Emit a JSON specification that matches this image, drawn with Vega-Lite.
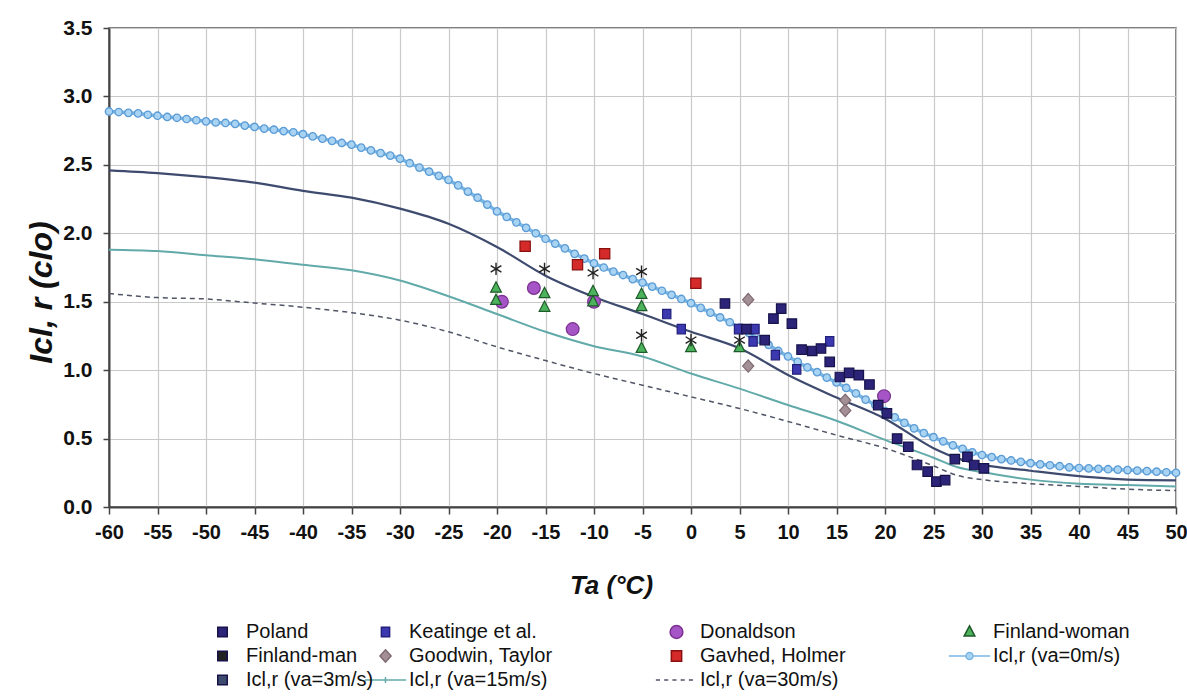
{
  "$schema": "https://vega.github.io/schema/vega-lite/v6.json",
  "width": 1067,
  "height": 479,
  "autosize": {"type": "none"},
  "padding": {"left": 109, "top": 28, "right": 11, "bottom": 191},
  "background": "white",
  "config": {
    "view": {"stroke": "#555555", "strokeWidth": 1.5},
    "font": "Liberation Sans",
    "axis": {
      "grid": true,
      "gridColor": "#c9c9c9",
      "gridWidth": 1.2,
      "domainColor": "#444444",
      "domainWidth": 2,
      "tickColor": "#444444",
      "tickWidth": 1.5,
      "labelFont": "Liberation Sans",
      "labelFontWeight": "bold",
      "labelFontSize": 20,
      "labelColor": "#111111",
      "titleFont": "Liberation Sans",
      "titleFontSize": 26,
      "titleFontWeight": "bold",
      "titleFontStyle": "italic",
      "titleColor": "#111111"
    },
    "legend": {
      "orient": "none",
      "symbolSize": 1700,
      "clipHeight": 18,
      "labelFont": "Liberation Sans",
      "labelFontSize": 20,
      "labelColor": "#111111",
      "labelOffset": 2,
      "labelLimit": 300,
      "rowPadding": 4,
      "padding": 0
    }
  },
  "data": {
    "values": [
      {"s": "Icl,r (va=0m/s)", "T": -60, "v": 2.89},
      {"s": "Icl,r (va=0m/s)", "T": -59, "v": 2.886},
      {"s": "Icl,r (va=0m/s)", "T": -58, "v": 2.88},
      {"s": "Icl,r (va=0m/s)", "T": -57, "v": 2.876},
      {"s": "Icl,r (va=0m/s)", "T": -56, "v": 2.866},
      {"s": "Icl,r (va=0m/s)", "T": -55, "v": 2.859},
      {"s": "Icl,r (va=0m/s)", "T": -54, "v": 2.85},
      {"s": "Icl,r (va=0m/s)", "T": -53, "v": 2.844},
      {"s": "Icl,r (va=0m/s)", "T": -52, "v": 2.835},
      {"s": "Icl,r (va=0m/s)", "T": -51, "v": 2.826},
      {"s": "Icl,r (va=0m/s)", "T": -50, "v": 2.818},
      {"s": "Icl,r (va=0m/s)", "T": -49, "v": 2.81},
      {"s": "Icl,r (va=0m/s)", "T": -48, "v": 2.806},
      {"s": "Icl,r (va=0m/s)", "T": -47, "v": 2.8},
      {"s": "Icl,r (va=0m/s)", "T": -46, "v": 2.787},
      {"s": "Icl,r (va=0m/s)", "T": -45, "v": 2.777},
      {"s": "Icl,r (va=0m/s)", "T": -44, "v": 2.765},
      {"s": "Icl,r (va=0m/s)", "T": -43, "v": 2.757},
      {"s": "Icl,r (va=0m/s)", "T": -42, "v": 2.747},
      {"s": "Icl,r (va=0m/s)", "T": -41, "v": 2.738},
      {"s": "Icl,r (va=0m/s)", "T": -40, "v": 2.724},
      {"s": "Icl,r (va=0m/s)", "T": -39, "v": 2.708},
      {"s": "Icl,r (va=0m/s)", "T": -38, "v": 2.692},
      {"s": "Icl,r (va=0m/s)", "T": -37, "v": 2.675},
      {"s": "Icl,r (va=0m/s)", "T": -36, "v": 2.66},
      {"s": "Icl,r (va=0m/s)", "T": -35, "v": 2.648},
      {"s": "Icl,r (va=0m/s)", "T": -34, "v": 2.626},
      {"s": "Icl,r (va=0m/s)", "T": -33, "v": 2.606},
      {"s": "Icl,r (va=0m/s)", "T": -32, "v": 2.586},
      {"s": "Icl,r (va=0m/s)", "T": -31, "v": 2.568},
      {"s": "Icl,r (va=0m/s)", "T": -30, "v": 2.545},
      {"s": "Icl,r (va=0m/s)", "T": -29, "v": 2.512},
      {"s": "Icl,r (va=0m/s)", "T": -28, "v": 2.48},
      {"s": "Icl,r (va=0m/s)", "T": -27, "v": 2.45},
      {"s": "Icl,r (va=0m/s)", "T": -26, "v": 2.42},
      {"s": "Icl,r (va=0m/s)", "T": -25, "v": 2.39},
      {"s": "Icl,r (va=0m/s)", "T": -24, "v": 2.35},
      {"s": "Icl,r (va=0m/s)", "T": -23, "v": 2.305},
      {"s": "Icl,r (va=0m/s)", "T": -22, "v": 2.26},
      {"s": "Icl,r (va=0m/s)", "T": -21, "v": 2.21},
      {"s": "Icl,r (va=0m/s)", "T": -20, "v": 2.16},
      {"s": "Icl,r (va=0m/s)", "T": -19, "v": 2.12},
      {"s": "Icl,r (va=0m/s)", "T": -18, "v": 2.08},
      {"s": "Icl,r (va=0m/s)", "T": -17, "v": 2.04},
      {"s": "Icl,r (va=0m/s)", "T": -16, "v": 2.0},
      {"s": "Icl,r (va=0m/s)", "T": -15, "v": 1.96},
      {"s": "Icl,r (va=0m/s)", "T": -14, "v": 1.925},
      {"s": "Icl,r (va=0m/s)", "T": -13, "v": 1.89},
      {"s": "Icl,r (va=0m/s)", "T": -12, "v": 1.85},
      {"s": "Icl,r (va=0m/s)", "T": -11, "v": 1.815},
      {"s": "Icl,r (va=0m/s)", "T": -10, "v": 1.78},
      {"s": "Icl,r (va=0m/s)", "T": -9, "v": 1.75},
      {"s": "Icl,r (va=0m/s)", "T": -8, "v": 1.72},
      {"s": "Icl,r (va=0m/s)", "T": -7, "v": 1.695},
      {"s": "Icl,r (va=0m/s)", "T": -6, "v": 1.665},
      {"s": "Icl,r (va=0m/s)", "T": -5, "v": 1.64},
      {"s": "Icl,r (va=0m/s)", "T": -4, "v": 1.61},
      {"s": "Icl,r (va=0m/s)", "T": -3, "v": 1.58},
      {"s": "Icl,r (va=0m/s)", "T": -2, "v": 1.55},
      {"s": "Icl,r (va=0m/s)", "T": -1, "v": 1.52},
      {"s": "Icl,r (va=0m/s)", "T": 0, "v": 1.49},
      {"s": "Icl,r (va=0m/s)", "T": 1, "v": 1.455},
      {"s": "Icl,r (va=0m/s)", "T": 2, "v": 1.42},
      {"s": "Icl,r (va=0m/s)", "T": 3, "v": 1.385},
      {"s": "Icl,r (va=0m/s)", "T": 4, "v": 1.35},
      {"s": "Icl,r (va=0m/s)", "T": 5, "v": 1.31},
      {"s": "Icl,r (va=0m/s)", "T": 6, "v": 1.27},
      {"s": "Icl,r (va=0m/s)", "T": 7, "v": 1.225},
      {"s": "Icl,r (va=0m/s)", "T": 8, "v": 1.185},
      {"s": "Icl,r (va=0m/s)", "T": 9, "v": 1.14},
      {"s": "Icl,r (va=0m/s)", "T": 10, "v": 1.1},
      {"s": "Icl,r (va=0m/s)", "T": 11, "v": 1.06},
      {"s": "Icl,r (va=0m/s)", "T": 12, "v": 1.02},
      {"s": "Icl,r (va=0m/s)", "T": 13, "v": 0.985},
      {"s": "Icl,r (va=0m/s)", "T": 14, "v": 0.945},
      {"s": "Icl,r (va=0m/s)", "T": 15, "v": 0.91},
      {"s": "Icl,r (va=0m/s)", "T": 16, "v": 0.87},
      {"s": "Icl,r (va=0m/s)", "T": 17, "v": 0.83},
      {"s": "Icl,r (va=0m/s)", "T": 18, "v": 0.785},
      {"s": "Icl,r (va=0m/s)", "T": 19, "v": 0.745},
      {"s": "Icl,r (va=0m/s)", "T": 20, "v": 0.7},
      {"s": "Icl,r (va=0m/s)", "T": 21, "v": 0.655},
      {"s": "Icl,r (va=0m/s)", "T": 22, "v": 0.615},
      {"s": "Icl,r (va=0m/s)", "T": 23, "v": 0.575},
      {"s": "Icl,r (va=0m/s)", "T": 24, "v": 0.54},
      {"s": "Icl,r (va=0m/s)", "T": 25, "v": 0.51},
      {"s": "Icl,r (va=0m/s)", "T": 26, "v": 0.48},
      {"s": "Icl,r (va=0m/s)", "T": 27, "v": 0.45},
      {"s": "Icl,r (va=0m/s)", "T": 28, "v": 0.425},
      {"s": "Icl,r (va=0m/s)", "T": 29, "v": 0.4},
      {"s": "Icl,r (va=0m/s)", "T": 30, "v": 0.38},
      {"s": "Icl,r (va=0m/s)", "T": 31, "v": 0.365},
      {"s": "Icl,r (va=0m/s)", "T": 32, "v": 0.35},
      {"s": "Icl,r (va=0m/s)", "T": 33, "v": 0.34},
      {"s": "Icl,r (va=0m/s)", "T": 34, "v": 0.33},
      {"s": "Icl,r (va=0m/s)", "T": 35, "v": 0.32},
      {"s": "Icl,r (va=0m/s)", "T": 36, "v": 0.312},
      {"s": "Icl,r (va=0m/s)", "T": 37, "v": 0.305},
      {"s": "Icl,r (va=0m/s)", "T": 38, "v": 0.298},
      {"s": "Icl,r (va=0m/s)", "T": 39, "v": 0.29},
      {"s": "Icl,r (va=0m/s)", "T": 40, "v": 0.285},
      {"s": "Icl,r (va=0m/s)", "T": 41, "v": 0.282},
      {"s": "Icl,r (va=0m/s)", "T": 42, "v": 0.279},
      {"s": "Icl,r (va=0m/s)", "T": 43, "v": 0.276},
      {"s": "Icl,r (va=0m/s)", "T": 44, "v": 0.273},
      {"s": "Icl,r (va=0m/s)", "T": 45, "v": 0.27},
      {"s": "Icl,r (va=0m/s)", "T": 46, "v": 0.266},
      {"s": "Icl,r (va=0m/s)", "T": 47, "v": 0.262},
      {"s": "Icl,r (va=0m/s)", "T": 48, "v": 0.258},
      {"s": "Icl,r (va=0m/s)", "T": 49, "v": 0.254},
      {"s": "Icl,r (va=0m/s)", "T": 50, "v": 0.25},

      {"s": "Icl,r (va=3m/s)", "T": -60, "v": 2.46},
      {"s": "Icl,r (va=3m/s)", "T": -55, "v": 2.44},
      {"s": "Icl,r (va=3m/s)", "T": -50, "v": 2.41},
      {"s": "Icl,r (va=3m/s)", "T": -45, "v": 2.37},
      {"s": "Icl,r (va=3m/s)", "T": -40, "v": 2.31},
      {"s": "Icl,r (va=3m/s)", "T": -35, "v": 2.26},
      {"s": "Icl,r (va=3m/s)", "T": -30, "v": 2.18},
      {"s": "Icl,r (va=3m/s)", "T": -25, "v": 2.07},
      {"s": "Icl,r (va=3m/s)", "T": -20, "v": 1.9},
      {"s": "Icl,r (va=3m/s)", "T": -15, "v": 1.69},
      {"s": "Icl,r (va=3m/s)", "T": -10, "v": 1.535},
      {"s": "Icl,r (va=3m/s)", "T": -5, "v": 1.41},
      {"s": "Icl,r (va=3m/s)", "T": 0, "v": 1.28},
      {"s": "Icl,r (va=3m/s)", "T": 5, "v": 1.16},
      {"s": "Icl,r (va=3m/s)", "T": 10, "v": 0.965},
      {"s": "Icl,r (va=3m/s)", "T": 15, "v": 0.8},
      {"s": "Icl,r (va=3m/s)", "T": 20, "v": 0.645},
      {"s": "Icl,r (va=3m/s)", "T": 25, "v": 0.43},
      {"s": "Icl,r (va=3m/s)", "T": 27.5, "v": 0.355},
      {"s": "Icl,r (va=3m/s)", "T": 30, "v": 0.31},
      {"s": "Icl,r (va=3m/s)", "T": 35, "v": 0.265},
      {"s": "Icl,r (va=3m/s)", "T": 40, "v": 0.225},
      {"s": "Icl,r (va=3m/s)", "T": 45, "v": 0.2},
      {"s": "Icl,r (va=3m/s)", "T": 50, "v": 0.195},

      {"s": "Icl,r (va=15m/s)", "T": -60, "v": 1.88},
      {"s": "Icl,r (va=15m/s)", "T": -55, "v": 1.87},
      {"s": "Icl,r (va=15m/s)", "T": -50, "v": 1.84},
      {"s": "Icl,r (va=15m/s)", "T": -45, "v": 1.81},
      {"s": "Icl,r (va=15m/s)", "T": -40, "v": 1.77},
      {"s": "Icl,r (va=15m/s)", "T": -35, "v": 1.73},
      {"s": "Icl,r (va=15m/s)", "T": -30, "v": 1.655},
      {"s": "Icl,r (va=15m/s)", "T": -25, "v": 1.54},
      {"s": "Icl,r (va=15m/s)", "T": -20, "v": 1.41},
      {"s": "Icl,r (va=15m/s)", "T": -15, "v": 1.28},
      {"s": "Icl,r (va=15m/s)", "T": -10, "v": 1.175},
      {"s": "Icl,r (va=15m/s)", "T": -5, "v": 1.1},
      {"s": "Icl,r (va=15m/s)", "T": 0, "v": 0.975},
      {"s": "Icl,r (va=15m/s)", "T": 5, "v": 0.865},
      {"s": "Icl,r (va=15m/s)", "T": 10, "v": 0.745},
      {"s": "Icl,r (va=15m/s)", "T": 15, "v": 0.63},
      {"s": "Icl,r (va=15m/s)", "T": 20, "v": 0.49},
      {"s": "Icl,r (va=15m/s)", "T": 25, "v": 0.36},
      {"s": "Icl,r (va=15m/s)", "T": 27.5, "v": 0.29},
      {"s": "Icl,r (va=15m/s)", "T": 30, "v": 0.255},
      {"s": "Icl,r (va=15m/s)", "T": 35, "v": 0.2},
      {"s": "Icl,r (va=15m/s)", "T": 40, "v": 0.17},
      {"s": "Icl,r (va=15m/s)", "T": 45, "v": 0.16},
      {"s": "Icl,r (va=15m/s)", "T": 50, "v": 0.15},

      {"s": "Icl,r (va=30m/s)", "T": -60, "v": 1.56},
      {"s": "Icl,r (va=30m/s)", "T": -55, "v": 1.53},
      {"s": "Icl,r (va=30m/s)", "T": -50, "v": 1.52},
      {"s": "Icl,r (va=30m/s)", "T": -45, "v": 1.49},
      {"s": "Icl,r (va=30m/s)", "T": -40, "v": 1.46},
      {"s": "Icl,r (va=30m/s)", "T": -35, "v": 1.42},
      {"s": "Icl,r (va=30m/s)", "T": -30, "v": 1.365},
      {"s": "Icl,r (va=30m/s)", "T": -25, "v": 1.28},
      {"s": "Icl,r (va=30m/s)", "T": -20, "v": 1.17},
      {"s": "Icl,r (va=30m/s)", "T": -15, "v": 1.07},
      {"s": "Icl,r (va=30m/s)", "T": -10, "v": 0.975},
      {"s": "Icl,r (va=30m/s)", "T": -5, "v": 0.89},
      {"s": "Icl,r (va=30m/s)", "T": 0, "v": 0.805},
      {"s": "Icl,r (va=30m/s)", "T": 5, "v": 0.72},
      {"s": "Icl,r (va=30m/s)", "T": 10, "v": 0.625},
      {"s": "Icl,r (va=30m/s)", "T": 15, "v": 0.525},
      {"s": "Icl,r (va=30m/s)", "T": 20, "v": 0.43},
      {"s": "Icl,r (va=30m/s)", "T": 25, "v": 0.3},
      {"s": "Icl,r (va=30m/s)", "T": 27.5, "v": 0.23},
      {"s": "Icl,r (va=30m/s)", "T": 30, "v": 0.2},
      {"s": "Icl,r (va=30m/s)", "T": 35, "v": 0.17},
      {"s": "Icl,r (va=30m/s)", "T": 40, "v": 0.15},
      {"s": "Icl,r (va=30m/s)", "T": 45, "v": 0.13},
      {"s": "Icl,r (va=30m/s)", "T": 50, "v": 0.12},

      {"s": "Donaldson", "T": -19.5, "v": 1.5},
      {"s": "Donaldson", "T": -16.2, "v": 1.6},
      {"s": "Donaldson", "T": -12.2, "v": 1.3},
      {"s": "Donaldson", "T": -10, "v": 1.5},
      {"s": "Donaldson", "T": 19.9, "v": 0.81},
      {"s": "Goodwin, Taylor", "T": 5.9, "v": 1.515},
      {"s": "Goodwin, Taylor", "T": 5.9, "v": 1.03},
      {"s": "Goodwin, Taylor", "T": 15.9, "v": 0.78},
      {"s": "Goodwin, Taylor", "T": 15.9, "v": 0.705},
      {"s": "Keatinge et al.", "T": -2.5, "v": 1.41},
      {"s": "Keatinge et al.", "T": -1.0, "v": 1.3},
      {"s": "Keatinge et al.", "T": 4.9, "v": 1.3},
      {"s": "Keatinge et al.", "T": 6.6, "v": 1.3},
      {"s": "Keatinge et al.", "T": 6.4, "v": 1.21},
      {"s": "Keatinge et al.", "T": 8.7, "v": 1.11},
      {"s": "Keatinge et al.", "T": 10.9, "v": 1.005},
      {"s": "Keatinge et al.", "T": 14.3, "v": 1.21},
      {"s": "Gavhed, Holmer", "T": -17.1, "v": 1.905},
      {"s": "Gavhed, Holmer", "T": -11.7, "v": 1.77},
      {"s": "Gavhed, Holmer", "T": -8.9, "v": 1.85},
      {"s": "Gavhed, Holmer", "T": 0.5, "v": 1.635},
      {"s": "Finland-woman", "T": -20.1, "v": 1.6},
      {"s": "Finland-woman", "T": -20.1, "v": 1.51},
      {"s": "Finland-woman", "T": -15.1, "v": 1.56},
      {"s": "Finland-woman", "T": -15.1, "v": 1.46},
      {"s": "Finland-woman", "T": -10.1, "v": 1.575},
      {"s": "Finland-woman", "T": -10.1, "v": 1.5},
      {"s": "Finland-woman", "T": -5.1, "v": 1.555},
      {"s": "Finland-woman", "T": -5.1, "v": 1.465},
      {"s": "Finland-woman", "T": -5.1, "v": 1.16},
      {"s": "Finland-woman", "T": 0, "v": 1.165},
      {"s": "Finland-woman", "T": 5, "v": 1.165},
      {"s": "Poland", "T": 3.5, "v": 1.487},
      {"s": "Poland", "T": 5.7, "v": 1.3},
      {"s": "Poland", "T": 7.6, "v": 1.22},
      {"s": "Poland", "T": 8.5, "v": 1.377},
      {"s": "Poland", "T": 9.3, "v": 1.45},
      {"s": "Poland", "T": 10.4, "v": 1.34},
      {"s": "Poland", "T": 11.4, "v": 1.15},
      {"s": "Poland", "T": 12.5, "v": 1.14},
      {"s": "Poland", "T": 13.4, "v": 1.158},
      {"s": "Poland", "T": 14.3, "v": 1.06},
      {"s": "Poland", "T": 15.35, "v": 0.95},
      {"s": "Poland", "T": 16.3, "v": 0.98},
      {"s": "Poland", "T": 17.3, "v": 0.963},
      {"s": "Poland", "T": 18.4, "v": 0.895},
      {"s": "Poland", "T": 19.3, "v": 0.745},
      {"s": "Poland", "T": 20.2, "v": 0.684},
      {"s": "Poland", "T": 21.25, "v": 0.5},
      {"s": "Poland", "T": 22.4, "v": 0.44},
      {"s": "Poland", "T": 23.3, "v": 0.307},
      {"s": "Poland", "T": 24.4, "v": 0.258},
      {"s": "Poland", "T": 25.3, "v": 0.185},
      {"s": "Poland", "T": 26.2, "v": 0.197},
      {"s": "Poland", "T": 27.2, "v": 0.35},
      {"s": "Poland", "T": 28.5, "v": 0.367},
      {"s": "Poland", "T": 29.2, "v": 0.307},
      {"s": "Poland", "T": 30.2, "v": 0.282},
      {"s": "Finland-man", "T": -20.1, "v": 1.74},
      {"s": "Finland-man", "T": -15.1, "v": 1.74},
      {"s": "Finland-man", "T": -10.1, "v": 1.71},
      {"s": "Finland-man", "T": -5.1, "v": 1.72},
      {"s": "Finland-man", "T": -5.1, "v": 1.255},
      {"s": "Finland-man", "T": 0, "v": 1.22},
      {"s": "Finland-man", "T": 5, "v": 1.22}
    ]
  },
  "encoding": {
    "x": {
      "field": "T",
      "type": "quantitative",
      "scale": {"domain": [-60, 50], "nice": false, "zero": false},
      "axis": {
        "title": "Ta (°C)",
        "values": [-60, -55, -50, -45, -40, -35, -30, -25, -20, -15, -10, -5, 0, 5, 10, 15, 20, 25, 30, 35, 40, 45, 50],
        "labelExpr": "'' + datum.value",
        "labelFlush": false,
        "labelOverlap": false,
        "tickSize": 7,
        "labelPadding": 8,
        "titlePadding": 30,
        "titleX": 502
      }
    },
    "y": {
      "field": "v",
      "type": "quantitative",
      "scale": {"domain": [0, 3.5], "nice": false},
      "axis": {
        "title": "Icl, r (clo)",
        "values": [0, 0.5, 1, 1.5, 2, 2.5, 3, 3.5],
        "format": ".1f",
        "labelFlush": false,
        "labelFontSize": 21,
        "tickSize": 6,
        "labelPadding": 11,
        "titleFontSize": 32,
        "titleX": -51,
        "titleY": 264,
        "titleAngle": 270,
        "titleBaseline": "bottom",
        "titleAlign": "center"
      }
    }
  },
  "layer": [
    {
      "transform": [{"filter": {"field": "s", "equal": "Icl,r (va=30m/s)"}}],
      "mark": {"type": "line", "strokeWidth": 1.5, "strokeDash": [5, 4], "interpolate": "monotone"},
      "encoding": {
        "stroke": {"field": "s", "type": "nominal", "title": null,
          "scale": {"domain": ["Keatinge et al.", "Donaldson", "Finland-woman", "Goodwin, Taylor", "Gavhed, Holmer", "Icl,r (va=0m/s)", "Icl,r (va=15m/s)", "Icl,r (va=30m/s)"],
                    "range": ["#22207a", "#7a3090", "#1f5a2a", "#7f6a70", "#8a1010", "#78b6e4", "#62aaaa", "#505566"]}}
      }
    },
    {
      "transform": [{"filter": {"field": "s", "equal": "Icl,r (va=15m/s)"}}],
      "mark": {"type": "line", "strokeWidth": 2, "interpolate": "monotone"},
      "encoding": {"stroke": {"field": "s", "type": "nominal", "title": null}}
    },
    {
      "transform": [{"filter": {"field": "s", "equal": "Icl,r (va=3m/s)"}}],
      "mark": {"type": "line", "strokeWidth": 2.2, "interpolate": "monotone", "stroke": "#3e4b6e"},
      "encoding": {}
    },
    {
      "transform": [{"filter": {"field": "s", "equal": "Icl,r (va=0m/s)"}}],
      "mark": {"type": "line", "strokeWidth": 3.5},
      "encoding": {"stroke": {"field": "s", "type": "nominal", "title": null}}
    },
    {
      "transform": [{"filter": {"field": "s", "equal": "Icl,r (va=0m/s)"}}],
      "mark": {"type": "point", "shape": "circle", "filled": true, "fill": "#a9d3f2", "stroke": "#5b9bd5", "strokeWidth": 1.3, "size": 55, "opacity": 1}
    },
    {
      "transform": [{"filter": {"field": "s", "oneOf": ["Keatinge et al.", "Donaldson", "Finland-woman", "Goodwin, Taylor", "Gavhed, Holmer"]}}],
      "mark": {"type": "point", "filled": true, "size": 1700, "opacity": 1, "strokeWidth": 1.2},
      "encoding": {
        "fill": {"field": "s", "type": "nominal", "title": null,
          "scale": {"domain": ["Keatinge et al.", "Donaldson", "Finland-woman", "Goodwin, Taylor", "Gavhed, Holmer", "Icl,r (va=0m/s)", "Icl,r (va=15m/s)", "Icl,r (va=30m/s)"],
                    "range": ["#3b38b0", "#a655c6", "#4cb35c", "#a38f96", "#d42a2a", "#a9d3f2", "#62aaaa", "#505566"]},
          "legend": {
            "title": null,
            "orient": "none",
            "legendX": 255,
            "legendY": 595,
            "columns": 3,
            "direction": "horizontal",
            "columnPadding": 102,
            "symbolSize": 1700,
            "clipHeight": 18,
            "labelOffset": 2,
            "encode": {
              "symbols": {
                "strokeWidth": {"value": {"expr": "datum.value == 'Icl,r (va=0m/s)' ? 3 : 1.3"}}
              }
            }
          }
        },
        "stroke": {"field": "s", "type": "nominal", "title": null},
        "shape": {"field": "s", "type": "nominal", "title": null,
          "scale": {"domain": ["Keatinge et al.", "Donaldson", "Finland-woman", "Goodwin, Taylor", "Gavhed, Holmer", "Icl,r (va=0m/s)", "Icl,r (va=15m/s)", "Icl,r (va=30m/s)"],
                    "range": [
                      "M-0.2,-0.23H0.2V0.23H-0.2Z",
                      "M-0.31,0A0.31,0.31 0 1,0 0.31,0A0.31,0.31 0 1,0 -0.31,0Z",
                      "M0,-0.3L0.26,0.2L-0.26,0.2Z",
                      "M0,-0.3L0.27,0L0,0.3L-0.27,0Z",
                      "M-0.25,-0.25H0.25V0.25H-0.25Z",
                      "M-1,0H-0.17M0.17,0H1M-0.17,0A0.17,0.17 0 1,0 0.17,0A0.17,0.17 0 1,0 -0.17,0Z",
                      "M-1,0H1M0,-0.14V0.14",
                      "M-1,0H-0.8M-0.6,0H-0.4M-0.2,0H0M0.2,0H0.4M0.6,0H0.8"
                    ]}
        }
      }
    },
    {
      "transform": [{"filter": {"field": "s", "equal": "Poland"}}],
      "mark": {"type": "point", "filled": true, "shape": "M-0.23,-0.23H0.23V0.23H-0.23Z", "size": 1700, "opacity": 1, "stroke": "#17124a", "strokeWidth": 1.2},
      "encoding": {
        "color": {"field": "s", "type": "nominal", "title": null,
          "scale": {"domain": ["Poland", "Finland-man", "Icl,r (va=3m/s)"],
                    "range": ["#2b2478", "#222222", "#3e4b6e"]},
          "legend": {
            "title": null,
            "orient": "none",
            "legendX": 92,
            "legendY": 595,
            "columns": 1,
            "direction": "vertical",
            "symbolSize": 1700,
            "clipHeight": 18,
            "labelOffset": 2,
            "encode": {
              "symbols": {
                "shape": {"value": {"expr": "datum.value == 'Poland' ? 'M-0.23,-0.23H0.23V0.23H-0.23Z' : (datum.value == 'Finland-man' ? 'M0,-0.3V0.3M-0.26,-0.16L0.26,0.16M-0.26,0.16L0.26,-0.16' : 'M-1,0H1')"}},
                "stroke": {"value": {"expr": "scale('color', datum.value)"}},
                "strokeWidth": {"value": {"expr": "datum.value == 'Icl,r (va=3m/s)' ? 2 : 1.3"}}
              }
            }
          }
        }
      }
    },
    {
      "transform": [{"filter": {"field": "s", "equal": "Finland-man"}}],
      "mark": {"type": "point", "filled": true, "shape": "M0,-0.3V0.3M-0.26,-0.16L0.26,0.16M-0.26,0.16L0.26,-0.16", "size": 1700, "opacity": 1, "stroke": "#222222", "strokeWidth": 1.4},
      "encoding": {"color": {"field": "s", "type": "nominal", "title": null}}
    }
  ]
}
